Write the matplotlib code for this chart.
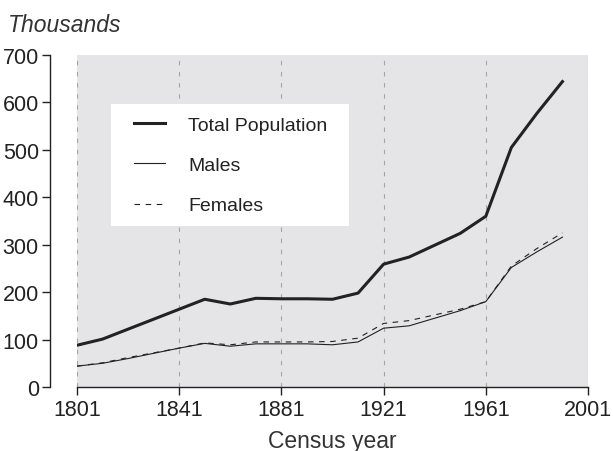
import matplotlib
matplotlib.use("Agg")
import matplotlib.pyplot as plt
from matplotlib.patches import Rectangle

years = [1801, 1811, 1821, 1831, 1841, 1851, 1861, 1871, 1881, 1891, 1901, 1911,
         1921, 1931, 1951, 1961, 1971, 1981, 1991]
total = [88, 101, 122, 143, 164, 185, 175, 187, 186, 186, 185, 198,
         259, 274, 324, 360, 505, 577, 644]
males = [44, 50, 60, 71, 82, 92, 86, 91, 91, 91, 89, 95,
         124, 129, 161, 180, 252, 285, 316]
females = [44, 51, 62, 72, 82, 93, 89, 95, 95, 95, 96, 103,
           134, 140, 164, 180, 255, 292, 325]
xticks = [1801, 1841, 1881, 1921, 1961, 2001]
yticks = [0, 100, 200, 300, 400, 500, 600, 700]

W, H = 613, 452
plt.rcParams['font.family'] = ['Liberation Sans', 'DejaVu Sans']
fig = plt.figure(figsize=(W/100, H/100), dpi=100)
ax = fig.add_axes([77/W, 1-388/H, (588-77)/W, (388-56)/H])
ax.set_facecolor('#e5e5e7')
ax.set_xlim(1801, 2001)
ax.set_ylim(0, 700)

for x in xticks:
    ax.axvline(x, color='#a5a5a5', lw=0.8, ls=(0, (4, 6)), zorder=1)

c = '#222222'
ax.plot(years, total, color=c, lw=2.2, label='Total Population', zorder=3)
ax.plot(years, males, color=c, lw=0.8, label='Males', zorder=3)
ax.plot(years, females, color=c, lw=0.8, ls=(0, (5, 5)), label='Females', zorder=3)

ax.set_xticks(xticks)
ax.set_yticks(yticks)
ax.tick_params(axis='both', labelsize=15.5, length=6, width=1, color='#222222', labelcolor='#222222')
ax.tick_params(axis='y', pad=2)
ax.tick_params(axis='x', pad=3)
for s in ['top', 'right']:
    ax.spines[s].set_visible(False)
ax.spines['left'].set_position(('outward', 19.5))
ax.spines['left'].set_bounds(0, 700)
ax.spines['bottom'].set_bounds(1801, 2001)
for s in ['left', 'bottom']:
    ax.spines[s].set_color('#222222')
    ax.spines[s].set_linewidth(1)

ax.set_xlabel('Census year', fontsize=16.5, color='#333333', labelpad=6)
fig.text(8/W, 1-25/H, 'Thousands', fontsize=16.5, style='italic', color='#333333', va='center')

ax.add_patch(Rectangle((111/W, 1-227/H), (349-111)/W, (227-105)/H,
                       transform=fig.transFigure, facecolor='white', edgecolor='none', zorder=2))

leg = ax.legend(loc='upper left', bbox_to_anchor=(134/W, 1-117/H), bbox_transform=fig.transFigure,
                borderaxespad=0, borderpad=0, frameon=False, fontsize=14,
                handlelength=1.6, handletextpad=1.18, labelspacing=1.17)
for t in leg.get_texts():
    t.set_color('#222222')

fig.savefig('out.png', dpi=100)
